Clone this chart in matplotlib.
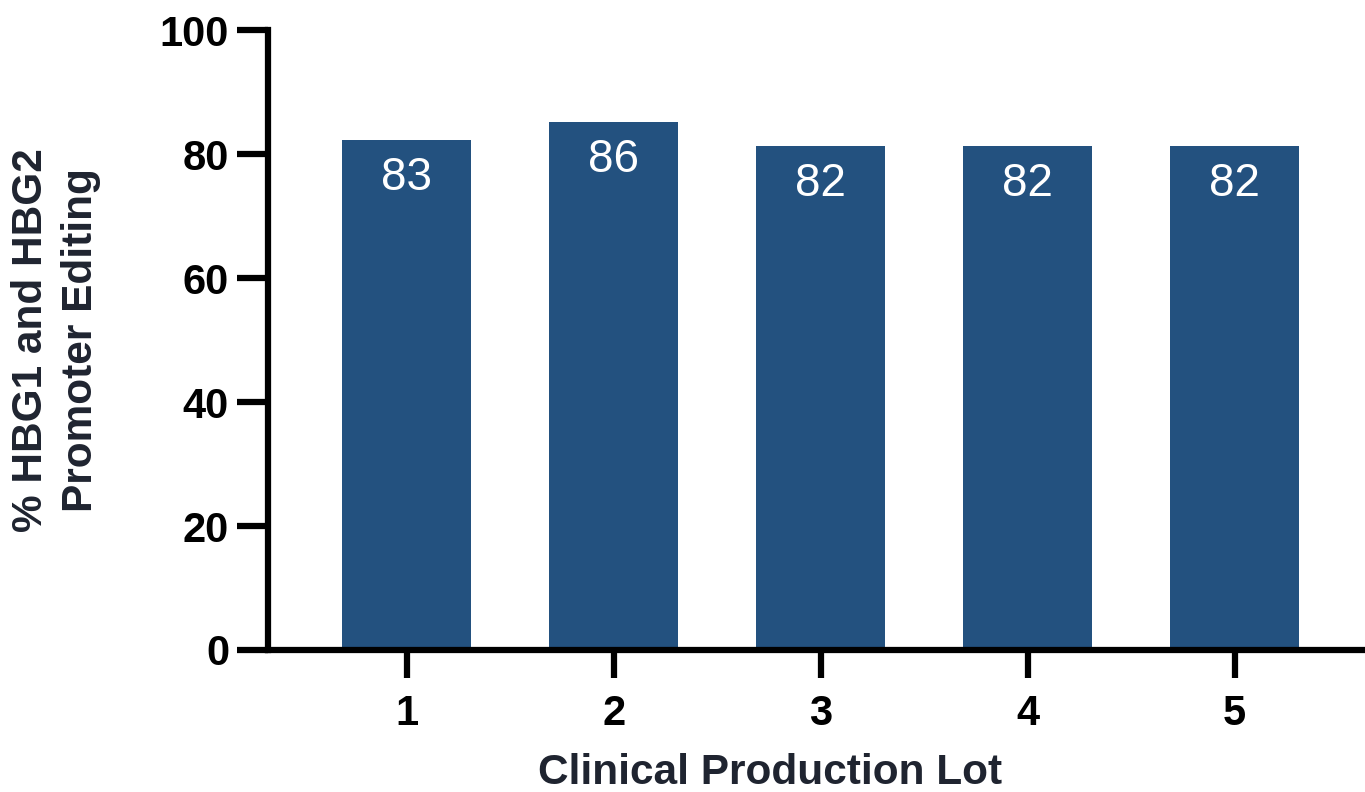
import matplotlib.pyplot as plt

plt.rcParams['font.family'] = ['Liberation Sans', 'DejaVu Sans']

## values
lots = [1, 2, 3, 4, 5]
editing = [82.3, 85.2, 81.3, 81.3, 81.3]
bar_labels = ['83', '86', '82', '82', '82']
y_ticks = [0, 20, 40, 60, 80, 100]

bar_color = '#23517f'
text_color = '#1f2430'

fig = plt.figure(figsize=(13.65, 7.92), dpi=100)
ax = fig.add_axes([0.1963, 0.1793, 0.8037, 0.7827])

bars = ax.bar(lots, editing, width=0.62, color=bar_color, zorder=2)

for rect, lab in zip(bars, bar_labels):
    ax.text(rect.get_x() + rect.get_width() / 2, rect.get_height() - 2.6, lab,
            ha='center', va='top', color='white', fontsize=33)

ax.set_xlim(0.33, 5.63)
ax.set_ylim(0, 100)
ax.set_xticks(lots)
ax.set_yticks(y_ticks)

for side in ['top', 'right']:
    ax.spines[side].set_visible(False)
for side in ['left', 'bottom']:
    ax.spines[side].set_linewidth(4.5)
    ax.spines[side].set_capstyle('projecting')

ax.tick_params(axis='y', length=22, width=4.5, pad=6, labelsize=30)
ax.tick_params(axis='x', length=20, width=4.5, pad=12, labelsize=30)
for lab in ax.get_xticklabels() + ax.get_yticklabels():
    lab.set_fontweight('bold')

fig.text(770 / 1365, 19 / 792, 'Clinical Production Lot', fontsize=30.5,
         fontweight='bold', color=text_color, ha='center', va='center')
fig.text(56 / 1365, 452 / 792, '% HBG1 and HBG2\nPromoter Editing',
         fontsize=30.5, fontweight='bold', color=text_color, rotation=90,
         ha='center', va='center', multialignment='center', linespacing=1.35)

plt.savefig('out.png', dpi=100)
